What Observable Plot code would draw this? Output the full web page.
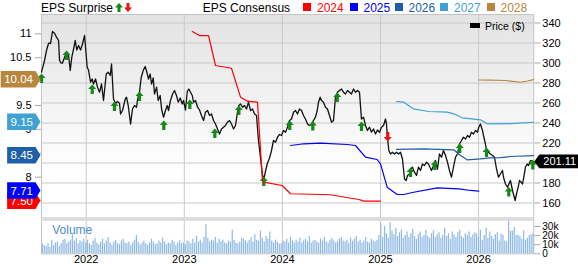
<!DOCTYPE html>
<html><head><meta charset="utf-8">
<script src="https://cdn.jsdelivr.net/npm/d3@7"></script>
<script src="https://cdn.jsdelivr.net/npm/@observablehq/plot@0.6"></script>
<style>
body{margin:0;background:#fff;font-family:"Liberation Sans",Arial,sans-serif;}
#wrap{position:relative;width:578px;height:264px;overflow:hidden;background:#fff;}
#hdr{position:absolute;left:0;top:0;width:578px;height:14px;font-size:12px;}
#hdr span{position:absolute;top:1px;line-height:14px;white-space:nowrap;}
.layer{position:absolute;left:0;}
svg{overflow:visible}
#plegend{position:absolute;left:470px;top:20px;font-size:10.5px;line-height:12px;}
</style></head><body>
<div id="wrap">
  <div id="hdr"></div>
  <div id="pricebox" class="layer" style="top:14px"></div>
  <div id="epsbox" class="layer" style="top:14px"></div>
  <div id="volbox" class="layer" style="top:217px"></div>
  <div id="plegend"><span style="position:absolute;left:0;top:2.5px;width:10px;height:5px;background:#000"></span><span style="position:absolute;left:15px;top:0;white-space:nowrap">Price ($)</span></div>
</div>
<script>
// ---------- data ----------
const yearTicks = [2022, 2023, 2024, 2025, 2026];
const priceTicks = [160, 180, 200, 220, 240, 260, 280, 300, 320, 340];
const epsTicks = [7.5, 8, 8.5, 9, 9.5, 10, 10.5, 11];
const volTicks = [0, 10000, 20000, 30000];
const consYears = ["2024", "2025", "2026", "2027", "2028"];
const consColors = ["#ff0000", "#0000ff", "#1f5fa9", "#3fa2d4", "#b8873d"];
const consCurrent = [7.50, 7.71, 8.45, 9.15, 10.04];
const lastPrice = 201.11;

// price: [decimal year, $]
const priceSeries = [
[2021.544,290.8],[2021.575,302.5],[2021.595,312.5],[2021.616,319.8],[2021.636,319.5],[2021.656,331.5],[2021.677,329.8],[2021.697,325.8],[2021.718,322.5],[2021.728,302.5],
[2021.745,299.8],[2021.758,300],[2021.779,305.8],[2021.799,310.8],[2021.820,307.5],[2021.837,292.5],[2021.853,305.8],[2021.871,314],[2021.888,322.5],[2021.904,313],
[2021.922,317.5],[2021.942,313],[2021.962,319],[2021.983,327.5],[2021.993,315.8],[2022.010,295.8],[2022.023,293],[2022.044,280.8],[2022.061,284],[2022.074,279],
[2022.095,284],[2022.115,275.8],[2022.136,270.8],[2022.156,279],[2022.176,262.5],[2022.204,289],[2022.224,290.8],[2022.245,287.5],[2022.258,299],[2022.278,264],
[2022.299,259.5],[2022.319,261.5],[2022.339,259.8],[2022.350,249],[2022.370,252.5],[2022.398,264],[2022.411,265.8],[2022.428,257.5],[2022.452,239],[2022.472,254],
[2022.492,257.5],[2022.513,255.8],[2022.523,263],[2022.533,267.5],[2022.543,270.8],[2022.561,285.8],[2022.581,292.5],[2022.601,296.5],[2022.618,290.8],[2022.635,284],
[2022.652,289],[2022.666,279],[2022.683,285],[2022.696,269],[2022.717,275.8],[2022.734,262.5],[2022.754,267.5],[2022.768,254],[2022.788,245.8],[2022.808,252.5],
[2022.826,257.5],[2022.839,252.5],[2022.859,262.5],[2022.880,269],[2022.900,272.5],[2022.920,267.5],[2022.938,260.8],[2022.958,265],[2022.979,259],[2022.992,262.5],
[2023.012,253],[2023.030,271.5],[2023.046,274],[2023.063,270.8],[2023.081,267.5],[2023.094,260.8],[2023.114,262.5],[2023.135,255.8],[2023.155,253],[2023.175,247.5],
[2023.196,242.5],[2023.216,250.8],[2023.237,252.5],[2023.257,247.5],[2023.277,249],[2023.298,242.5],[2023.318,239],[2023.338,234],[2023.359,229],[2023.379,234],
[2023.400,235.8],[2023.420,237.5],[2023.440,240.8],[2023.461,242.5],[2023.481,239],[2023.502,234],[2023.522,237.5],[2023.542,250.8],[2023.556,257.5],[2023.573,259],
[2023.593,255.8],[2023.614,257.5],[2023.634,254],[2023.654,260.8],[2023.675,252.5],[2023.695,254],[2023.716,249],[2023.736,247.5],[2023.756,222.5],[2023.777,205],
[2023.797,188],[2023.812,184.5],[2023.828,192],[2023.848,200],[2023.869,205],[2023.889,212.5],[2023.909,222.5],[2023.930,220.8],[2023.950,225.8],[2023.970,228.5],
[2023.991,227.5],[2024.011,232.5],[2024.032,230.8],[2024.052,235.8],[2024.072,242.5],[2024.093,244],[2024.113,250.8],[2024.134,252.5],[2024.154,249],[2024.174,254],
[2024.195,252.5],[2024.215,247.5],[2024.235,244],[2024.256,239],[2024.276,237.5],[2024.297,239],[2024.317,242.5],[2024.337,245.8],[2024.355,252.5],[2024.368,260.8],
[2024.385,265.8],[2024.399,262.5],[2024.419,260.8],[2024.439,255.8],[2024.460,254],[2024.480,247.5],[2024.501,240.8],[2024.521,242.5],[2024.541,265.8],[2024.562,270.8],
[2024.582,272.5],[2024.602,274],[2024.623,270.8],[2024.643,269],[2024.664,272.5],[2024.684,270.8],[2024.704,269],[2024.725,274],[2024.745,270.8],[2024.766,272.5],
[2024.786,270.8],[2024.806,244],[2024.827,245.8],[2024.847,237.5],[2024.867,232.5],[2024.888,235.8],[2024.908,230.8],[2024.929,234],[2024.949,229],[2024.969,233],
[2024.990,230.8],[2025.010,235.8],[2025.031,237.5],[2025.051,244],[2025.061,239],[2025.071,225.8],[2025.085,212.5],[2025.102,209],[2025.122,210.8],[2025.143,209],
[2025.163,210.8],[2025.183,209],[2025.204,210.8],[2025.224,204],[2025.245,184],[2025.262,182.5],[2025.275,187.5],[2025.296,189],[2025.306,194],[2025.326,195.8],
[2025.347,190.8],[2025.367,187.5],[2025.387,195.8],[2025.408,192.5],[2025.428,199],[2025.449,197.5],[2025.469,200.8],[2025.489,199],[2025.520,192.5],[2025.540,197.5],
[2025.561,202.5],[2025.581,194],[2025.601,209],[2025.622,205.8],[2025.642,212.5],[2025.663,207.5],[2025.683,200.8],[2025.703,192.5],[2025.724,185.8],[2025.744,195.8],
[2025.765,205.8],[2025.785,209],[2025.805,219],[2025.826,222.5],[2025.846,225.8],[2025.867,224],[2025.887,227.5],[2025.907,225.8],[2025.928,230.8],[2025.948,229],
[2025.968,232.5],[2025.989,230.8],[2026.002,235.8],[2026.019,239],[2026.040,232.5],[2026.050,227.5],[2026.070,219],[2026.081,212.5],[2026.101,210.8],[2026.121,209],
[2026.142,207.5],[2026.162,205.8],[2026.183,194],[2026.203,185.8],[2026.223,189],[2026.244,192.5],[2026.254,185.8],[2026.274,179],[2026.295,175.8],[2026.305,178],
[2026.325,182.5],[2026.346,172.5],[2026.359,167.5],[2026.373,162.5],[2026.386,169],[2026.404,175.8],[2026.417,182.5],[2026.434,180.8],[2026.448,179],[2026.461,185.8],
[2026.478,195.8],[2026.495,199],[2026.509,197.5],[2026.529,202.5],[2026.549,201.8],[2026.563,201.11]
];

// EPS surprise markers: [decimal year, price level]
const beats = [
[2021.544,289.5],[2021.799,312.5],[2022.061,278.5],[2022.288,261.5],[2022.543,271.5],[2022.791,242.5],[2023.056,263.5],[2023.311,234.5],
[2023.556,257.5],[2023.810,186.5],[2024.075,242.5],[2024.310,242],[2024.559,270.5],[2024.806,241.5],[2025.306,195.5],[2025.554,202.5],
[2025.808,219.5],[2026.081,215.5],[2026.308,176],[2026.553,203]
];
const misses = [[2025.074,221.5]];

// EPS consensus lines: [decimal year, EPS]
const cons2024 = [[2023.081,11.048],[2023.155,10.964],[2023.247,10.964],[2023.318,10.337],[2023.481,10.28],[2023.573,9.674],[2023.644,9.59],[2023.746,9.569],[2023.797,7.931],[2023.810,7.895],[2023.998,7.826],[2024.083,7.653],[2024.490,7.632],[2024.592,7.596],[2024.779,7.533],[2024.830,7.50],[2025.000,7.50]];
const cons2025 = [[2024.083,8.663],[2024.218,8.699],[2024.388,8.711],[2024.661,8.684],[2024.745,8.663],[2024.847,8.418],[2024.966,8.37],[2025.000,8.28],[2025.068,7.791],[2025.170,7.638],[2025.238,7.638],[2025.326,7.68],[2025.578,7.778],[2025.798,7.757],[2025.917,7.722],[2026.002,7.71]];
const cons2026 = [[2025.163,8.58],[2025.441,8.594],[2025.747,8.573],[2025.816,8.454],[2025.884,8.364],[2026.019,8.385],[2026.121,8.406],[2026.223,8.41],[2026.325,8.433],[2026.560,8.45]];
const cons2027 = [[2025.163,9.584],[2025.238,9.569],[2025.333,9.431],[2025.492,9.374],[2025.680,9.36],[2025.747,9.326],[2025.833,9.243],[2026.019,9.2],[2026.088,9.117],[2026.325,9.12],[2026.560,9.15]];
const cons2028 = [[2026.002,10.033],[2026.121,10.029],[2026.274,10.023],[2026.427,9.987],[2026.499,10.012],[2026.560,10.04]];

// weekly volume (thousands), first week starting at volStart
const volStart = 2021.553;
const volume = [
11,9,8,11,7,15,9,12,13,8,11,15,16,11,13,15,21,14,17,11,14,13,16,
12,15,11,9,14,17,12,10,13,16,11,14,18,12,9,13,15,11,10,14,16,12,11,13,9,12,15,20,13,10,12,14,11,9,12,16,13,10,11,14,12,17,13,10,12,11,15,13,9,12,14,11,
12,10,14,13,11,16,12,19,13,15,12,18,32,17,13,15,14,18,12,16,13,15,12,11,14,13,26,15,12,11,13,17,16,14,12,15,18,13,21,15,14,25,17,13,19,16,24,14,12,15,13,11,
11,14,13,16,12,18,14,12,15,13,17,12,14,16,13,19,12,14,15,13,12,16,14,18,13,12,15,17,14,12,13,16,18,14,13,15,12,17,14,16,19,13,15,12,14,18,13,12,16,14,13,15,
20,33,18,30,22,17,34,25,21,28,19,23,26,17,20,24,18,22,27,19,16,21,24,18,20,26,19,17,22,25,18,21,23,17,20,28,19,22,16,24,21,18,23,26,19,17,22,20,24,18,21,23,
22,18,26,15,20,28,17,24,19,16,21,23,14,21.5,20.5,14,13,36,25,25,29,20,20.5,19,16,25,15,17,20,21,22
];

// ---------- layout constants ----------
const W = 578, ML = 41, MR = 44.7;
const xDomain = [2021.544, 2026.563];
const FONT = "'Liberation Sans', Arial, sans-serif";
const GRID = "#c9c9c9";
// tick labels that sit under a value badge in the reference are left blank
const coveredEps = new Set(consCurrent.map(v => Math.round(v * 2) / 2).filter(v => v !== 9));
const coveredPrice = new Set([Math.round(lastPrice / 20) * 20]);

// ---------- header legend ----------
const hdr = d3.select("#hdr");
hdr.append("span").style("left", "41px").text("EPS Surprise");
hdr.append("svg").attr("width", 8).attr("height", 9).style("position", "absolute").style("left", "114.5px").style("top", "3px")
  .append("path").attr("d", "M4,0L8,4.5L5.5,4.5L5.5,9L2.5,9L2.5,4.5L0,4.5Z").attr("fill", "#118811");
hdr.append("svg").attr("width", 8).attr("height", 9).style("position", "absolute").style("left", "124px").style("top", "3px")
  .append("path").attr("d", "M4,9L8,4.5L5.5,4.5L5.5,0L2.5,0L2.5,4.5L0,4.5Z").attr("fill", "#ee1111");
hdr.append("span").style("left", "202.7px").text("EPS Consensus");
const legLeft = [303, 349.5, 394.5, 440, 486.5];
consYears.forEach((y, i) => {
  hdr.append("span").style("left", legLeft[i] + "px").style("top", "3px").style("width", "8px").style("height", "8px").style("background", consColors[i]);
  hdr.append("span").style("left", (legLeft[i] + 14) + "px").style("color", consColors[i]).text(y);
});

// ---------- price panel ----------
const upArrow = {draw(ctx) { ctx.moveTo(0, 0); ctx.lineTo(4, 4.5); ctx.lineTo(1.6, 4.5); ctx.lineTo(1.6, 9.5); ctx.lineTo(-1.6, 9.5); ctx.lineTo(-1.6, 4.5); ctx.lineTo(-4, 4.5); ctx.closePath(); }};
const downArrow = {draw(ctx) { ctx.moveTo(0, 0); ctx.lineTo(4, -4.5); ctx.lineTo(1.6, -4.5); ctx.lineTo(1.6, -9.5); ctx.lineTo(-1.6, -9.5); ctx.lineTo(-1.6, -4.5); ctx.lineTo(-4, -4.5); ctx.closePath(); }};

const priceBadge = (index, scales, values, dims) => {
  const g = d3.create("svg:g");
  const y = scales.y(lastPrice), x0 = dims.width - dims.marginRight + 1;
  g.append("path").attr("d", `M${x0},${y}L${x0 + 5},${y - 6.8}L${dims.width + 2},${y - 6.8}L${dims.width + 2},${y + 6.8}L${x0 + 5},${y + 6.8}Z`).attr("fill", "#000");
  g.append("text").attr("x", x0 + 9).attr("y", y).attr("dy", "0.36em").attr("text-anchor", "start").attr("fill", "#fff").attr("font-size", 11).attr("font-family", FONT).text(lastPrice.toFixed(2));
  return g.node();
};

const pricePlot = Plot.plot({
  width: W, height: 203.5, marginTop: 0, marginBottom: 0, marginLeft: ML, marginRight: MR,
  style: {background: "transparent", overflow: "visible", fontFamily: FONT, fontSize: "11px", color: "#000"},
  x: {domain: xDomain, axis: null},
  y: {domain: [145, 348.5], axis: "right", ticks: priceTicks, tickSize: 6, tickPadding: 2.5, label: null,
      tickFormat: d => coveredPrice.has(d) ? "" : String(d)},
  marks: [
    Plot.frame({fill: "url(#pgrad)"}),
    Plot.ruleY(priceTicks, {stroke: GRID, strokeWidth: 1}),
    Plot.ruleX(yearTicks, {stroke: GRID, strokeWidth: 1}),
    Plot.frame({stroke: "#c4c4c4"}),
    Plot.line(priceSeries, {x: d => d[0], y: d => d[1], stroke: "#111", strokeWidth: 1.3}),
    Plot.dot(beats, {x: d => d[0], y: d => d[1], symbol: upArrow, fill: "#138a13", stroke: null, r: 3}),
    Plot.dot(misses, {x: d => d[0], y: d => d[1], symbol: downArrow, fill: "#ee1111", stroke: null, r: 3}),
    priceBadge
  ]
});
d3.select(pricePlot).insert("defs", ":first-child").html(
  '<linearGradient id="pgrad" x1="0" y1="0" x2="0" y2="1"><stop offset="0" stop-color="#e3e3e3"/><stop offset="0.78" stop-color="#ffffff"/><stop offset="1" stop-color="#ffffff"/></linearGradient>');
d3.select(pricePlot).selectAll('[aria-label="y-axis tick"]').attr("stroke", "#a8a8a8");
document.getElementById("pricebox").appendChild(pricePlot);

// ---------- EPS consensus overlay ----------
const epsBadges = (index, scales, values, dims) => {
  const g = d3.create("svg:g");
  const tip = dims.marginLeft - 0.5;
  consCurrent.forEach((v, i) => {
    const label = v.toFixed(2);
    const y = scales.y(v);
    const tw = label.replace(".", "").length * 6.4 + 3.2;
    const left = tip - 5 - tw - 6;
    g.append("path").attr("d", `M${tip},${y}L${tip - 5},${y - 8.3}L${left},${y - 8.3}L${left},${y + 8.3}L${tip - 5},${y + 8.3}Z`).attr("fill", consColors[i]);
    g.append("text").attr("x", left + 3.5).attr("y", y).attr("dy", "0.36em").attr("text-anchor", "start").attr("fill", "#fff").attr("font-size", 11.5).attr("font-family", FONT).text(label);
  });
  return g.node();
};
const consSeries = [cons2024, cons2025, cons2026, cons2027, cons2028];
const epsPlot = Plot.plot({
  width: W, height: 203.5, marginTop: 0, marginBottom: 0, marginLeft: ML, marginRight: MR,
  style: {background: "transparent", overflow: "visible", fontFamily: FONT, fontSize: "11px", color: "#000"},
  x: {domain: xDomain, axis: null},
  y: {domain: [7.146, 11.404], axis: "left", ticks: epsTicks, tickSize: 6, tickPadding: 4, label: null,
      tickFormat: d => coveredEps.has(d) ? "" : String(d)},
  marks: [
    ...consSeries.map((s, i) => Plot.line(s, {x: d => d[0], y: d => d[1], stroke: consColors[i], strokeWidth: 1.2})),
    epsBadges
  ]
});
d3.select(epsPlot).selectAll('[aria-label="y-axis tick"]').attr("stroke", "#a8a8a8");
document.getElementById("epsbox").appendChild(epsPlot);

// ---------- volume panel ----------
const volData = volume.map((v, i) => ({t: volStart + i * 7 / 365.25, v: v * 1000}));
const volPlot = Plot.plot({
  width: W, height: 47, marginTop: 2, marginBottom: 10.7, marginLeft: ML, marginRight: MR,
  style: {background: "transparent", overflow: "visible", fontFamily: FONT, fontSize: "11px", color: "#000"},
  x: {domain: xDomain, ticks: yearTicks, tickFormat: d => String(d), tickSize: 0, tickPadding: 1.5, label: null},
  y: {axis: null, domain: [0, 37700]},
  marks: [
    Plot.frame({fill: "#fff", stroke: "#c4c4c4"}),
    Plot.ruleX(yearTicks, {stroke: GRID}),
    Plot.ruleX(volData, {x: "t", y1: 0, y2: "v", stroke: "#8fb9e4", strokeWidth: 1.2}),
    Plot.ruleY([37700], {stroke: "#dadada", strokeWidth: 2.5}),
    Plot.axisY(volTicks, {anchor: "right", tickSize: 6, tickPadding: 2.5, fontSize: 10, label: null,
      tickFormat: d => d === 0 ? "0" : (d / 1000) + "k"}),
    Plot.text(["Volume"], {frameAnchor: "top-left", dx: 10.7, dy: 5.5, fill: "#4a8fd0", fontSize: 12, textAnchor: "start"})
  ]
});
d3.select(volPlot).selectAll('[aria-label="y-axis tick"]').attr("stroke", "#a8a8a8");
document.getElementById("volbox").appendChild(volPlot);
</script>
</body></html>
